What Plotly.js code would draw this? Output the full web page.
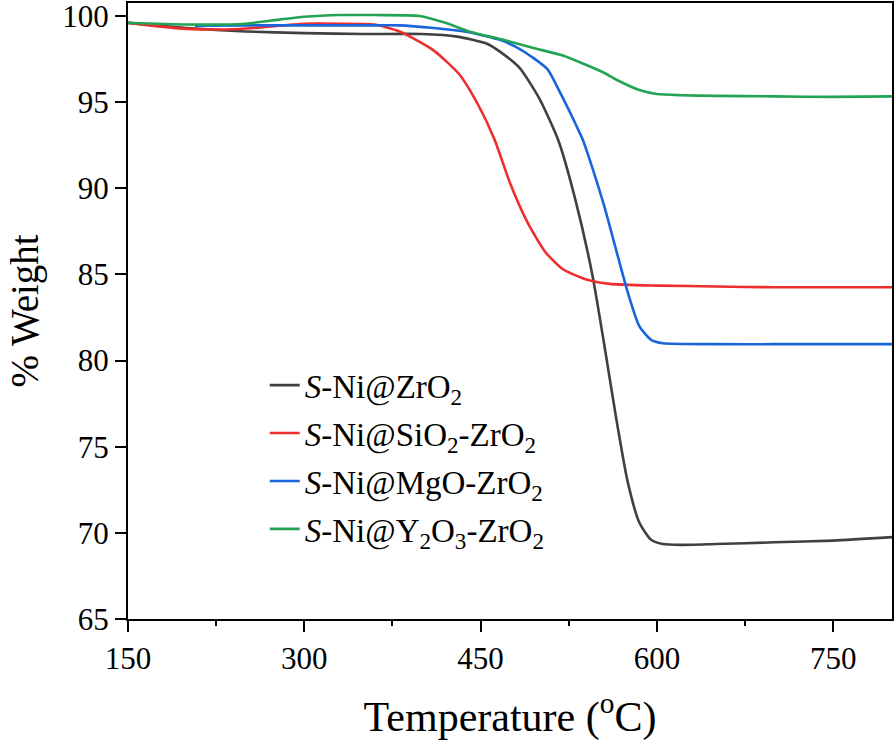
<!DOCTYPE html>
<html>
<head>
<meta charset="utf-8">
<script src="https://cdn.plot.ly/plotly-3.0.1.min.js"></script>
<style>
html,body{margin:0;padding:0;background:#fff;}
#chart{width:896px;height:754px;}
</style>
</head>
<body>
<div id="chart"></div>
<script>
// Series names
const seriesNames = [
  '<i>S</i>-Ni@ZrO<sub>2</sub>',
  '<i>S</i>-Ni@SiO<sub>2</sub>-ZrO<sub>2</sub>',
  '<i>S</i>-Ni@MgO-ZrO<sub>2</sub>',
  '<i>S</i>-Ni@Y<sub>2</sub>O<sub>3</sub>-ZrO<sub>2</sub>'
];

// S-Ni@ZrO2 (black)
const tempZr = [150,200,250,300,350,400,430,455,467,483,500,516,530,545,555,565,575,585,595,605,620,650,700,750,800];
const wZr    = [99.6,99.3,99.1,99.0,98.95,98.95,98.8,98.4,97.9,97.0,95.2,92.8,89.5,85.0,81.0,76.8,73.0,70.6,69.6,69.35,69.3,69.35,69.45,69.55,69.75];

// S-Ni@SiO2-ZrO2 (red)
const tempSi = [150,200,245,300,330,360,381,390,410,432,449,462,475,490,505,520,540,560,600,650,700,800];
const wSi    = [99.6,99.25,99.24,99.55,99.55,99.5,99.1,98.8,98.0,96.6,94.7,92.8,90.3,88.0,86.3,85.3,84.7,84.45,84.35,84.3,84.25,84.25];

// S-Ni@MgO-ZrO2 (blue)
const tempMg = [207,250,300,350,380,410,440,467,480,494,507,518,532,537,545,555,565,575,585,595,605,650,700,800];
const wMg    = [99.43,99.45,99.45,99.45,99.45,99.3,99.05,98.6,98.2,97.6,96.9,95.5,93.55,92.8,91.2,89.0,86.5,84.0,82.0,81.2,81.0,80.95,80.95,80.95];

// S-Ni@Y2O3-ZrO2 (green)
const tempY = [150,200,250,280,300,330,360,398,420,440,470,495,520,540,555,566,585,600,620,650,700,750,800];
const wY    = [99.6,99.5,99.55,99.8,99.95,100.05,100.05,100.0,99.6,99.1,98.6,98.14,97.7,97.15,96.7,96.28,95.7,95.47,95.4,95.36,95.33,95.3,95.33];

const xTicks = [150,300,450,600,750];
const yTicks = [65,70,75,80,85,90,95,100];

const colors = ['#404040','#ee2d2d','#1a64dc','#23a455'];
const xs = [tempZr,tempSi,tempMg,tempY];
const ys = [wZr,wSi,wMg,wY];

const data = xs.map((x,i)=>({
  x: x, y: ys[i], type:'scatter', mode:'lines', name: seriesNames[i],
  legendgroup:'g'+i,
  line:{color:colors[i], width:2.6, shape:'spline', smoothing:0.6}
}));

const fam = 'Times New Roman';
const layout = {
  width:896, height:754,
  margin:{l:128, r:4, t:3, b:135},
  paper_bgcolor:'#fff', plot_bgcolor:'#fff',
  font:{family:fam, color:'#000', size:31},
  showlegend:true,
  legend:{x:0.179, y:0.425, xanchor:'left', yanchor:'top', bgcolor:'rgba(0,0,0,0)',
          font:{family:fam, size:33, color:'#000'}, tracegroupgap:2},
  xaxis:{
    range:[150,800], tickmode:'array', tickvals:xTicks, ticklabeloverflow:'allow',
    showline:true, linecolor:'#000', linewidth:2, mirror:true,
    ticks:'outside', ticklen:11, tickwidth:2, tickcolor:'#000',
    minor:{ticks:'outside', ticklen:5, tickwidth:2, tickcolor:'#000', dtick:75, tick0:150},
    showgrid:false, zeroline:false,
    tickfont:{family:fam, size:31, color:'#000'},
    title:{text:'Temperature (<sup>o</sup>C)', font:{family:fam, size:42, color:'#000'}, standoff:26}
  },
  yaxis:{
    range:[65,100.75], tickmode:'array', tickvals:yTicks, ticklabeloverflow:'allow',
    showline:true, linecolor:'#000', linewidth:2, mirror:true,
    ticks:'outside', ticklen:11, tickwidth:2, tickcolor:'#000',
    showgrid:false, zeroline:false,
    tickfont:{family:fam, size:31, color:'#000'},
    title:{text:'% Weight', font:{family:fam, size:39, color:'#000'}, standoff:12}
  }
};

Plotly.newPlot('chart', data, layout, {displayModeBar:false, staticPlot:true});
</script>
</body>
</html>
